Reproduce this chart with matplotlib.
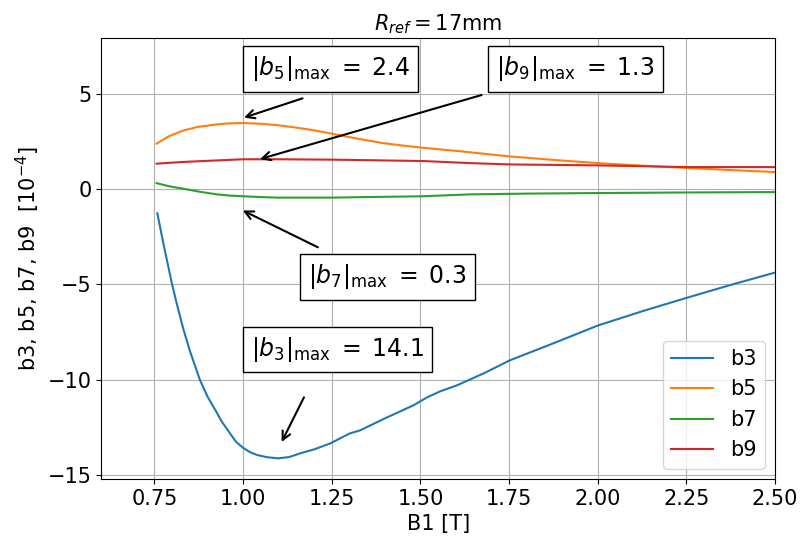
import matplotlib
matplotlib.use("Agg")
import matplotlib.pyplot as plt

# multipole coefficients vs. dipole field, units of 1e-4
b3_x = [0.758, 0.775, 0.799, 0.810, 0.830, 0.850, 0.878, 0.900, 0.926, 0.940,
        0.963, 0.980, 1.000, 1.020, 1.039, 1.065, 1.098, 1.130, 1.160, 1.200,
        1.245, 1.301, 1.330, 1.400, 1.479, 1.519, 1.555, 1.603, 1.680, 1.752,
        1.880, 2.001, 2.130, 2.255, 2.380, 2.500]
b3_y = [-1.27, -2.85, -4.94, -5.80, -7.25, -8.50, -10.00, -10.90, -11.73, -12.20,
        -12.81, -13.25, -13.57, -13.80, -13.94, -14.05, -14.12, -14.05, -13.86, -13.65,
        -13.34, -12.81, -12.65, -12.02, -11.35, -10.92, -10.61, -10.29, -9.65, -8.98,
        -8.05, -7.15, -6.38, -5.68, -5.00, -4.38]

b5_x = [0.756, 0.790, 0.830, 0.870, 0.926, 0.960, 1.000, 1.050, 1.095, 1.150,
        1.200, 1.251, 1.320, 1.394, 1.450, 1.504, 1.612, 1.752, 1.880, 2.000,
        2.130, 2.255, 2.380, 2.500]
b5_y = [2.38, 2.76, 3.06, 3.25, 3.39, 3.44, 3.46, 3.42, 3.35, 3.22,
        3.08, 2.90, 2.65, 2.41, 2.28, 2.17, 1.98, 1.71, 1.52, 1.36,
        1.22, 1.10, 0.99, 0.89]

b7_x = [0.756, 0.790, 0.830, 0.880, 0.926, 0.960, 1.000, 1.050, 1.095, 1.150,
        1.251, 1.350, 1.504, 1.640, 1.800, 2.000, 2.250, 2.500]
b7_y = [0.31, 0.15, 0.02, -0.15, -0.28, -0.34, -0.38, -0.42, -0.45, -0.45,
        -0.45, -0.42, -0.38, -0.28, -0.24, -0.21, -0.18, -0.16]

b9_x = [0.756, 0.830, 0.926, 1.000, 1.100, 1.251, 1.504, 1.640, 1.752, 2.000, 2.255, 2.500]
b9_y = [1.33, 1.42, 1.50, 1.56, 1.56, 1.54, 1.47, 1.36, 1.29, 1.24, 1.15, 1.15]

# annotation texts and where they sit (text centre, arrow tail, arrow head)
notes = [
    (r"$|b_5|_{\max}\;=\;2.4$", (1.246, 6.30), (1.175, 4.80), (0.995, 3.70)),
    (r"$|b_9|_{\max}\;=\;1.3$", (1.936, 6.30), (1.680, 4.97), (1.040, 1.53)),
    (r"$|b_7|_{\max}\;=\;0.3$", (1.407, -4.60), (1.218, -3.12), (0.992, -1.06)),
    (r"$|b_3|_{\max}\;=\;14.1$", (1.266, -8.41), (1.175, -10.79), (1.105, -13.39)),
]

plt.rcParams["font.size"] = 15

fig = plt.figure(figsize=(8.04, 5.4), dpi=100)
ax = fig.add_axes([0.126, 0.113, 0.838, 0.816])

ax.plot(b3_x, b3_y, label="b3")
ax.plot(b5_x, b5_y, label="b5")
ax.plot(b7_x, b7_y, label="b7")
ax.plot(b9_x, b9_y, label="b9")

for text, xy_text, tail, head in notes:
    ax.annotate("", xy=head, xytext=tail,
                arrowprops=dict(arrowstyle="->", color="black", lw=1.5))
    ax.text(xy_text[0], xy_text[1], text, fontsize=17, ha="center", va="center",
            bbox=dict(boxstyle="square,pad=0.35", fc="white", ec="black", lw=1))

ax.set_xlim(0.6, 2.5)
ax.set_ylim(-15.2, 7.9)
ax.set_xticks([0.75, 1.0, 1.25, 1.5, 1.75, 2.0, 2.25, 2.5])
ax.set_yticks([5, 0, -5, -10, -15])
ax.grid(True)
ax.set_xlabel("B1 [T]")
ax.set_ylabel(r"b3, b5, b7, b9  [$10^{-4}$]")
ax.set_title(r"$R_{ref} = 17$mm", fontsize=15)
ax.legend(loc="lower right")

fig.savefig("out.png", dpi=100)
